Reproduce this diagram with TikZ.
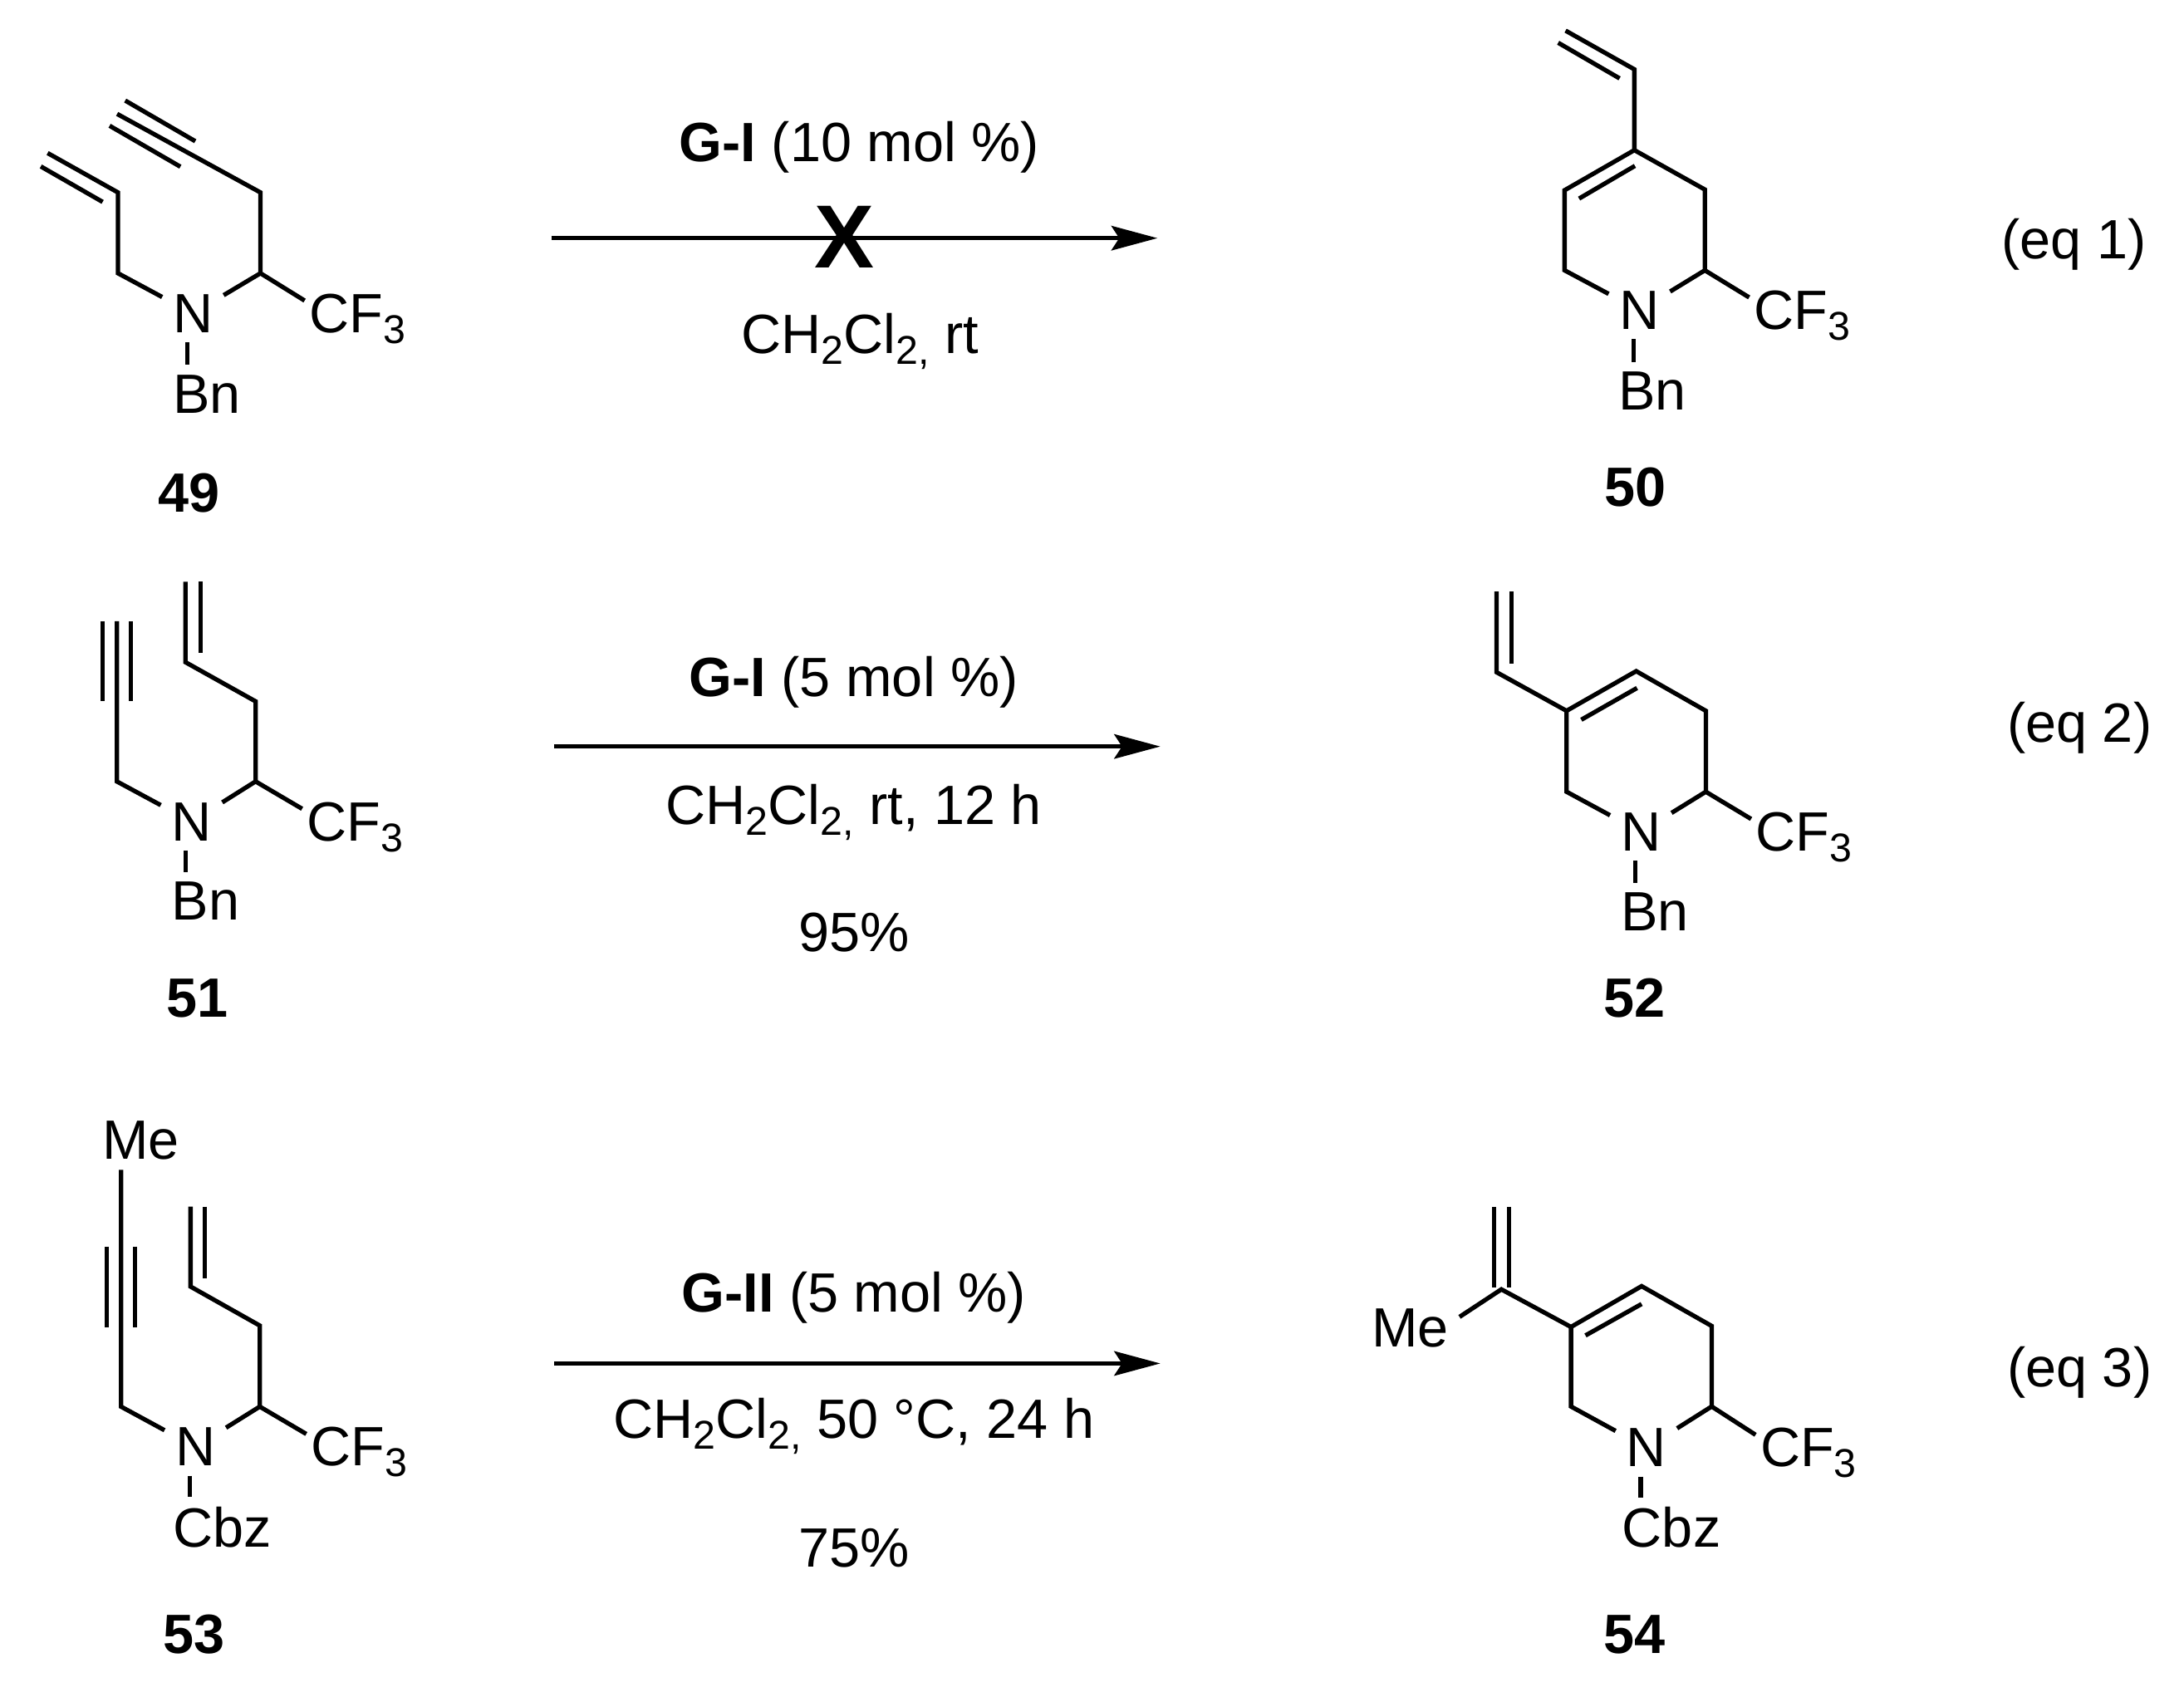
\documentclass[tikz,border=0pt]{standalone}
\usepackage{fontspec}
\setmainfont{Liberation Sans}
\usepackage{tikz}
\usetikzlibrary{arrows.meta,calc}
\newcommand{\lowr}[1]{\raisebox{-2.2pt}{\fontsize{8.2}{9}\selectfont #1}}

\begin{document}
\begin{tikzpicture}[x=0.01cm,y=-0.01cm,
    font=\fontsize{11.3}{13}\selectfont,
    bond/.style={line width=0.9pt},
    atom/.style={inner xsep=2pt,inner ysep=1.8pt},
    cfthree/.style={inner xsep=0.8pt,inner ysep=1.8pt,anchor=base west},
    cond/.style={inner sep=0pt,anchor=base},
    cmpd/.style={inner sep=0pt,anchor=base,font=\fontsize{11.3}{13}\selectfont\bfseries},
    rxn/.style={line width=0.8pt,-{Stealth[length=9.4pt,width=5pt,inset=1.6pt]}}]
  \useasboundingbox (0,0) rectangle (1568,1218);

  % reaksjonspiler
  \foreach \n/\xa/\xb/\yy in {1/396/831/171, 2/398/833/536, 3/398/833/979} {
    \coordinate (as\n) at (\xa,\yy);
    \coordinate (ae\n) at (\xb,\yy);
    \draw[rxn] (as\n) -- (ae\n);
  }
  \node[inner sep=0pt,font=\fontsize{18.3}{20}\selectfont\bfseries] (cross) at (606,170.5) {X};

  % betingelser
  \node[cond] (top1) at (617,116) {\textbf{G-I} (10 mol \%)};
  \node[cond] (low1) at (617.5,254) {CH\lowr{2}Cl\lowr{2,} rt};
  \node[cond] (top2) at (613,500) {\textbf{G-I} (5 mol \%)};
  \node[cond] (low2) at (613,592) {CH\lowr{2}Cl\lowr{2,} rt, 12 h};
  \node[cond] (yld2) at (613,683) {95\%};
  \node[cond] (top3) at (613,942) {\textbf{G-II} (5 mol \%)};
  \node[cond] (low3) at (613,1033) {CH\lowr{2}Cl\lowr{2,} 50 °C, 24 h};
  \node[cond] (yld3) at (613,1125) {75\%};

  % likningsnummer
  \foreach \n/\px/\py in {1/1489/186, 2/1493/533, 3/1493/996} {
    \node[cond] (eq\n) at (\px,\py) {(eq \n)};
  }

  % forbindelsesnummer
  \foreach \n/\px/\py in {49/135.5/367.8, 50/1174/363.8, 51/141.5/730.4,
                          52/1173.7/730.4, 53/139.2/1187, 54/1173.5/1187.3} {
    \node[cmpd] (lab\n) at (\px,\py) {\n};
  }

  % 49
  \foreach \nm/\px/\py in {ta/34.2/109.9, va/84.7/138.2, pa/29.3/119.5, qa/73.7/145,
                           la/84.7/196.2, ba/187/196.2, ra/187/138.2, ya/84.1/81.8,
                           ua/89.9/72.2, wa/140.2/101.4, ga/78.7/90.3, ha/129.5/119.7} {
    \coordinate (\nm) at (\px,\py);
  }
  \node[atom,anchor=base] (na) at (138.5,238.8) {N};
  \node[atom,anchor=base west] (sa) at (116.6,296.5) {Bn};
  \node[cfthree] (fa) at (218.7,238.8) {CF\lowr{3}};
  \draw[bond] (ta) -- (va) -- (la) -- (na);
  \draw[bond] (pa) -- (qa);
  \draw[bond] (ya) -- (ra) -- (ba) -- (na);
  \draw[bond] (ua) -- (wa);
  \draw[bond] (ga) -- (ha);
  \draw[bond] (ba) -- (fa.161);
  \draw[bond] (na.259) -- (na.259 |- sa.north);

  % 50
  \foreach \nm/\px/\py in {tb/1124/22, vb/1173.4/49.8, pb/1118.7/30.7, qb/1162.8/56.3,
                           cb/1173.4/107.8, db/1123.3/136.6, lb/1123.3/194.1,
                           gb/1133.7/142.6, hb/1173.8/119.1, rb/1224/136.1, bb/1224/194.1} {
    \coordinate (\nm) at (\px,\py);
  }
  \node[atom,anchor=base] (nb) at (1177,236.5) {N};
  \node[atom,anchor=base west] (sb) at (1154.2,294.3) {Bn};
  \node[cfthree] (fb) at (1255.8,236.5) {CF\lowr{3}};
  \draw[bond] (tb) -- (vb) -- (cb) -- (db) -- (lb) -- (nb);
  \draw[bond] (pb) -- (qb);
  \draw[bond] (gb) -- (hb);
  \draw[bond] (cb) -- (rb) -- (bb) -- (nb);
  \draw[bond] (bb) -- (fb.161);
  \draw[bond] (nb.259) -- (nb.259 |- sb.north);

  % 51
  \foreach \nm/\px/\py in {yc/83.9/446, lc/83.9/561.1, uc/73.6/446, wc/73.6/503.6,
                           gc/93.9/446, hc/93.9/503.6, tc/133.2/417.7, vc/133.2/475.5,
                           pc/144/417.7, qc/144/469, rc/183.5/503.6, bc/183.5/561.1} {
    \coordinate (\nm) at (\px,\py);
  }
  \node[atom,anchor=base] (nc) at (137.5,603.7) {N};
  \node[atom,anchor=base west] (sc) at (115.5,660.8) {Bn};
  \node[cfthree] (fc) at (216.9,603.7) {CF\lowr{3}};
  \draw[bond] (yc) -- (lc) -- (nc);
  \draw[bond] (uc) -- (wc);
  \draw[bond] (gc) -- (hc);
  \draw[bond] (tc) -- (vc) -- (rc) -- (bc) -- (nc);
  \draw[bond] (pc) -- (qc);
  \draw[bond] (bc) -- (fc.161);
  \draw[bond] (nc.259) -- (nc.259 |- sc.north);

  % 52
  \foreach \nm/\px/\py in {td/1074.5/424.8, vd/1074.5/482.7, pd/1085.3/424.8, qd/1085.3/476.3,
                           cd/1124.7/510.4, dd/1174.7/481.9, rd/1224.7/510.4, bd/1224.7/568.5,
                           ld/1124.7/568.5, gd/1135.3/516.8, hd/1175.3/494} {
    \coordinate (\nm) at (\px,\py);
  }
  \node[atom,anchor=base] (nd) at (1178,611) {N};
  \node[atom,anchor=base west] (sd) at (1156.2,668.2) {Bn};
  \node[cfthree] (fd) at (1257.2,611) {CF\lowr{3}};
  \draw[bond] (td) -- (vd) -- (cd) -- (dd) -- (rd) -- (bd) -- (nd);
  \draw[bond] (pd) -- (qd);
  \draw[bond] (gd) -- (hd);
  \draw[bond] (cd) -- (ld) -- (nd);
  \draw[bond] (bd) -- (fd.161);
  \draw[bond] (nd.259) -- (nd.259 |- sd.north);

  % 53
  \foreach \nm/\px/\py in {le/86.9/1010, ue/76.6/895, we/76.6/952.8, ge/97/895, he/97/952.8,
                           te/136.8/866.4, ve/136.8/923.8, pe/147.1/866.4, qe/147.1/918.1,
                           re/186.5/951.8, be/186.5/1010} {
    \coordinate (\nm) at (\px,\py);
  }
  \node[atom,anchor=base west] (me) at (65.8,832.5) {Me};
  \node[atom,anchor=base] (ne) at (140.2,1052.6) {N};
  \node[atom,anchor=base west] (se) at (116.7,1110.8) {Cbz};
  \node[cfthree] (fe) at (219.9,1052.6) {CF\lowr{3}};
  \draw[bond] (le |- me.south) -- (le) -- (ne);
  \draw[bond] (ue) -- (we);
  \draw[bond] (ge) -- (he);
  \draw[bond] (te) -- (ve) -- (re) -- (be) -- (ne);
  \draw[bond] (pe) -- (qe);
  \draw[bond] (be) -- (fe.161);
  \draw[bond] (ne.259) -- (ne.259 |- se.north);

  % 54
  \foreach \nm/\px/\py in {vf/1077.9/925.8, pf/1072.8/866.5, qf/1072.8/924.2, tf/1083.5/866.5,
                           uf/1083.5/924.2, cf/1127.9/952.8, df/1178.6/923.5, rf/1228.9/952.1,
                           bf/1228.9/1009.9, lf/1127.9/1009.9, gf/1138.3/958.9, hf/1178.6/936.3} {
    \coordinate (\nm) at (\px,\py);
  }
  \node[atom,anchor=base west] (mf) at (977.2,967.2) {Me};
  \node[atom,anchor=base] (nf) at (1182,1053.2) {N};
  \node[atom,anchor=base west] (sf) at (1157,1111) {Cbz};
  \node[cfthree] (ff) at (1260.4,1053.2) {CF\lowr{3}};
  \draw[bond] (mf.13) -- (vf) -- (cf) -- (df) -- (rf) -- (bf) -- (nf);
  \draw[bond] (pf) -- (qf);
  \draw[bond] (tf) -- (uf);
  \draw[bond] (gf) -- (hf);
  \draw[bond] (cf) -- (lf) -- (nf);
  \draw[bond] (bf) -- (ff.161);
  \draw[bond] (nf.259) -- (nf.259 |- sf.north);
\end{tikzpicture}
\end{document}
